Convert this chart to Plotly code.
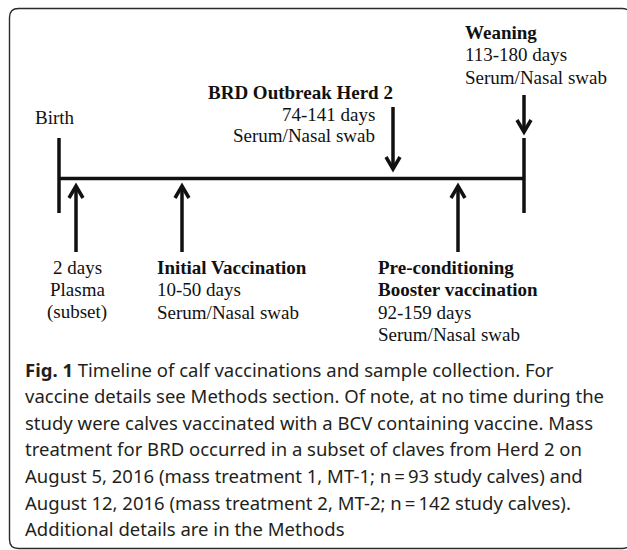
import plotly.graph_objects as go

# ---------------- data ----------------
timeline_events = ["Birth", "Weaning"]
up_events = ["2 days", "Initial Vaccination", "Pre-conditioning"]
down_events = ["BRD Outbreak Herd 2", "Weaning"]

birth_label = ["Birth"]
two_days_label = ["2 days", "Plasma", "(subset)"]
initial_label = ["Initial Vaccination", "10-50 days", "Serum/Nasal swab"]
initial_bold = [True, False, False]
brd_label = ["BRD Outbreak Herd 2", "74-141 days", "Serum/Nasal swab"]
brd_bold = [True, False, False]
precond_label = ["Pre-conditioning", "Booster vaccination", "92-159 days", "Serum/Nasal swab"]
precond_bold = [True, True, False, False]
weaning_label = ["Weaning", "113-180 days", "Serum/Nasal swab"]
weaning_bold = [True, False, False]

caption_lead = "Fig. 1"
caption_lines = [
    " Timeline of calf vaccinations and sample collection. For",
    "vaccine details see Methods section. Of note, at no time during the",
    "study were calves vaccinated with a BCV containing vaccine. Mass",
    "treatment for BRD occurred in a subset of claves from Herd 2 on",
    "August 5, 2016 (mass treatment 1, MT-1; n\u2009=\u200993 study calves) and",
    "August 12, 2016 (mass treatment 2, MT-2; n\u2009=\u2009142 study calves).",
    "Additional details are in the Methods",
]

# ---------------- layout (positions in page units) ----------------
W, H = 627, 550
pos_timeline = {"Birth": 59, "Weaning": 524}
pos_up = {"2 days": 76, "Initial Vaccination": 182, "Pre-conditioning": 458}
pos_down = {"BRD Outbreak Herd 2": 393, "Weaning": 524}
line_y = 178.5
bar_top, bar_bot = 138, 213
up_tail, up_tip = 252, 186
down_geom = {"BRD Outbreak Herd 2": (107, 169), "Weaning": (95, 132)}
head_w, head_h = 7, 12
LW = 3.5
INK = "#111111"
SERIF = "Liberation Serif"
SERIF_SIZE = 19
LINE_STEP = 22.5

fig = go.Figure()
fig.add_trace(go.Scatter(x=[0, W], y=[0, H], mode="markers",
                         marker=dict(opacity=0), hoverinfo="skip"))

shapes = []
# border (rounded rectangle)
r = 9
L, T, R, B = 9.5, 8.5, 631, 548.5
border = (f"M {L},{T+r} Q {L},{T} {L+r},{T} L {R-r},{T} Q {R},{T} {R},{T+r} "
          f"L {R},{B-r} Q {R},{B} {R-r},{B} L {L+r},{B} Q {L},{B} {L},{B-r} Z")
shapes.append(dict(type="path", path=border, xref="x", yref="y",
                   line=dict(color="#2b2b2b", width=1.4)))

# main timeline
x0 = pos_timeline[timeline_events[0]]
x1 = pos_timeline[timeline_events[-1]]
shapes.append(dict(type="line", x0=x0, x1=x1, y0=line_y, y1=line_y,
                   xref="x", yref="y", line=dict(color=INK, width=LW)))
for ev in timeline_events:
    xv = pos_timeline[ev]
    shapes.append(dict(type="line", x0=xv, x1=xv, y0=bar_top, y1=bar_bot,
                       xref="x", yref="y", line=dict(color=INK, width=LW)))

def arrow(xv, tail, tip):
    d = 1 if tail > tip else -1  # +1 points up
    shapes.append(dict(type="line", x0=xv, x1=xv, y0=tail, y1=tip,
                       xref="x", yref="y", line=dict(color=INK, width=LW)))
    p = (f"M {xv-head_w},{tip + d*head_h} L {xv},{tip} L {xv+head_w},{tip + d*head_h}")
    shapes.append(dict(type="path", path=p, xref="x", yref="y",
                       line=dict(color=INK, width=LW)))

for ev in up_events:
    arrow(pos_up[ev], up_tail, up_tip)
for ev in down_events:
    tail, tip = down_geom[ev]
    arrow(pos_down[ev], tail, tip)

annotations = []

def txt(s, x, y, anchor="left", bold=False, size=SERIF_SIZE, family=SERIF, color=INK):
    annotations.append(dict(
        text=f"<b>{s}</b>" if bold else s, x=x, y=y, xref="x", yref="y",
        xanchor=anchor, yanchor="middle", showarrow=False,
        font=dict(family=family, size=size, color=color), borderpad=0))

# labels
txt(birth_label[0], 34, 117)
for i, s in enumerate(two_days_label):
    txt(s, 77, 267 + i * LINE_STEP, anchor="center")
for i, s in enumerate(initial_label):
    txt(s, 156, 267 + i * LINE_STEP, bold=initial_bold[i])
txt(brd_label[0], 207, 92, bold=True)
for i, s in enumerate(brd_label[1:]):
    txt(s, 376, 114 + i * 21.5, anchor="right", bold=brd_bold[i + 1])
for i, s in enumerate(precond_label):
    txt(s, 377, 267 + i * LINE_STEP, bold=precond_bold[i])
for i, s in enumerate(weaning_label):
    txt(s, 464, 32 + i * LINE_STEP, bold=weaning_bold[i])

# caption
CAP_FONT = "Noto Sans"
CAP_SIZE = 18.5
CAP_COLOR = "#231f20"
cap_y0, cap_step = 369, 26.6
for i, s in enumerate(caption_lines):
    s2 = f"<b>{caption_lead}</b>{s}" if i == 0 else s
    txt(s2, 24, cap_y0 + i * cap_step, family=CAP_FONT, size=CAP_SIZE, color=CAP_COLOR)

fig.update_layout(
    width=W, height=H, margin=dict(l=0, r=0, t=0, b=0),
    paper_bgcolor="white", plot_bgcolor="white", showlegend=False,
    xaxis=dict(range=[0, W], visible=False, fixedrange=True),
    yaxis=dict(range=[H, 0], visible=False, fixedrange=True),
    shapes=shapes, annotations=annotations,
)
fig.write_html(
    "out.html",
    config={"displayModeBar": False},
    post_script="document.body.style.margin='0';document.body.style.overflow='hidden';",
)
